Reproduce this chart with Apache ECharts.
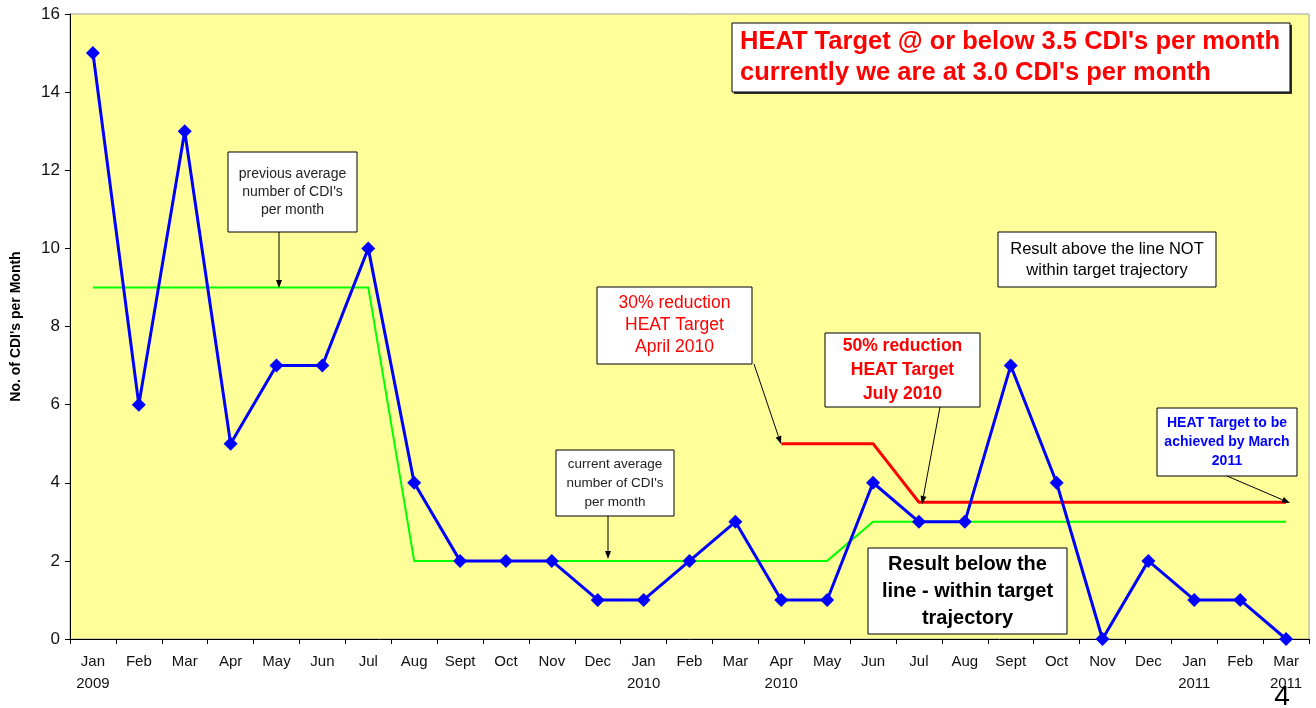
<!DOCTYPE html>
<html><head><meta charset="utf-8">
<script src="https://cdn.jsdelivr.net/npm/echarts@6/dist/echarts.min.js"></script>
<style>html,body{margin:0;padding:0;background:#fff}#c{width:1316px;height:708px}</style>
</head><body><div id="c"></div>
<script>
var categories = ['Jan\n2009','Feb','Mar','Apr','May','Jun','Jul','Aug','Sept','Oct','Nov','Dec','Jan\n2010','Feb','Mar','Apr\n2010','May','Jun','Jul','Aug','Sept','Oct','Nov','Dec','Jan\n2011','Feb','Mar\n2011'];
var actualCDI = [15,6,13,5,7,7,10,4,2,2,2,1,1,2,3,1,1,4,3,3,7,4,0,2,1,1,0];
var averageCDI = [9,9,9,9,9,9,9,2,2,2,2,2,2,2,2,2,2,3,3,3,3,3,3,3,3,3,3];
var heatTarget = [null,null,null,null,null,null,null,null,null,null,null,null,null,null,null,5,5,5,3.5,3.5,3.5,3.5,3.5,3.5,3.5,3.5,3.5];
var yTicks = {min:0, max:16, interval:2};

var font = 'Liberation Sans, Arial, sans-serif';
function arrow(x1,y1,x2,y2){
  var a = Math.atan2(y2-y1,x2-x1), L=8, W=3;
  var bx = x2 - L*Math.cos(a), by = y2 - L*Math.sin(a);
  var px = -Math.sin(a)*W, py = Math.cos(a)*W;
  return [
    {type:'line', shape:{x1:x1,y1:y1,x2:bx,y2:by}, style:{stroke:'#000',lineWidth:1}, z:10},
    {type:'polygon', shape:{points:[[x2,y2],[bx+px,by+py],[bx-px,by-py]]}, style:{fill:'#000'}, z:10}
  ];
}
function box(x,y,w,h,text,color,size,weight,lh){
  return [
    {type:'rect', shape:{x:x,y:y,width:w,height:h}, style:{fill:'#fff',stroke:'#000',lineWidth:1}, z:10},
    {type:'text', x:x+w/2, y:y+h/2, style:{text:text, fill:color, font:(weight||'normal')+' '+size+'px '+font, align:'center', verticalAlign:'middle', lineHeight:lh}, z:11}
  ];
}
var g = [];
g = g.concat(box(228,152,129,80,"previous average\nnumber of CDI's\nper month",'#222',14,'normal',18));
g = g.concat(arrow(279,232,279,288));
g = g.concat(box(556,450,118,66,"current average\nnumber of CDI's\nper month",'#222',13.5,'normal',19));
g = g.concat(arrow(608,516,608,559));
g = g.concat(box(597,287,155,77,"30% reduction\nHEAT Target\nApril 2010",'#ff0000',17.5,'normal',22));
g = g.concat(arrow(754,364,781,444));
g = g.concat(box(825,333,155,74,"50% reduction\nHEAT Target\nJuly 2010",'#ff0000',17.5,'bold',24));
g = g.concat(arrow(940,407,922,504));
g = g.concat(box(998,232,218,55,"Result above the line NOT\nwithin target trajectory",'#000',16.5,'normal',21));
g = g.concat(box(1157,408,140,68,"HEAT Target to be\nachieved by March\n2011",'#0000ff',14,'bold',19));
g = g.concat(arrow(1227,476,1290,503));
g.push({type:'rect', shape:{x:734,y:25,width:558,height:69}, style:{fill:'#333'}, z:9});
g.push({type:'rect', shape:{x:732,y:23,width:558,height:69}, style:{fill:'#fff',stroke:'#000',lineWidth:1}, z:10});
g.push({type:'text', x:740, y:57, style:{text:"HEAT Target @ or below 3.5 CDI's per month\ncurrently we are at 3.0 CDI's per month", fill:'#ff0000', font:'bold 25.5px '+font, align:'left', verticalAlign:'middle', lineHeight:31}, z:12});
g = g.concat(box(868,548,199,86,"Result below the\nline - within target\ntrajectory",'#000',20,'bold',27));
g.push({type:'text', x:1282, y:697, style:{text:'4', fill:'#000', font:'28px '+font, align:'center', verticalAlign:'middle'}, z:12});

var chart = echarts.init(document.getElementById('c'));
chart.setOption({
  animation:false,
  backgroundColor:'#fff',
  grid:{left:70, right:7, top:14, bottom:69, outerBoundsMode:'none', containLabel:false, show:true, backgroundColor:'#ffff99', borderColor:'#a0a0a0', borderWidth:1},
  xAxis:{type:'category', data:categories, boundaryGap:true,
    axisLine:{lineStyle:{color:'#000',width:1}},
    axisTick:{show:true, length:5, lineStyle:{color:'#000'}},
    axisLabel:{color:'#111', fontFamily:font, fontSize:15, margin:12, lineHeight:22, interval:0},
    splitLine:{show:false}},
  yAxis:{type:'value', min:yTicks.min, max:yTicks.max, interval:yTicks.interval,
    name:"No. of CDI's per Month", nameLocation:'middle', nameGap:47, nameRotate:90,
    nameTextStyle:{fontFamily:font, fontSize:14, fontWeight:'bold', color:'#000'},
    axisLine:{show:true, lineStyle:{color:'#000',width:1}},
    axisTick:{show:true, length:5, lineStyle:{color:'#000'}},
    axisLabel:{color:'#111', fontFamily:font, fontSize:17, margin:10},
    splitLine:{show:false}},
  series:[
    {name:'Average', type:'line', data:averageCDI, symbol:'none', lineStyle:{color:'#00ff00', width:2}, z:2},
    {name:'HEAT Target', type:'line', data:heatTarget, symbol:'none', lineStyle:{color:'#ff0000', width:3}, z:3},
    {name:'CDIs', type:'line', data:actualCDI, symbol:'diamond', symbolSize:14, itemStyle:{color:'#0000ff'}, lineStyle:{color:'#0000ff', width:3}, z:4}
  ],
  graphic:g
});
</script></body></html>
